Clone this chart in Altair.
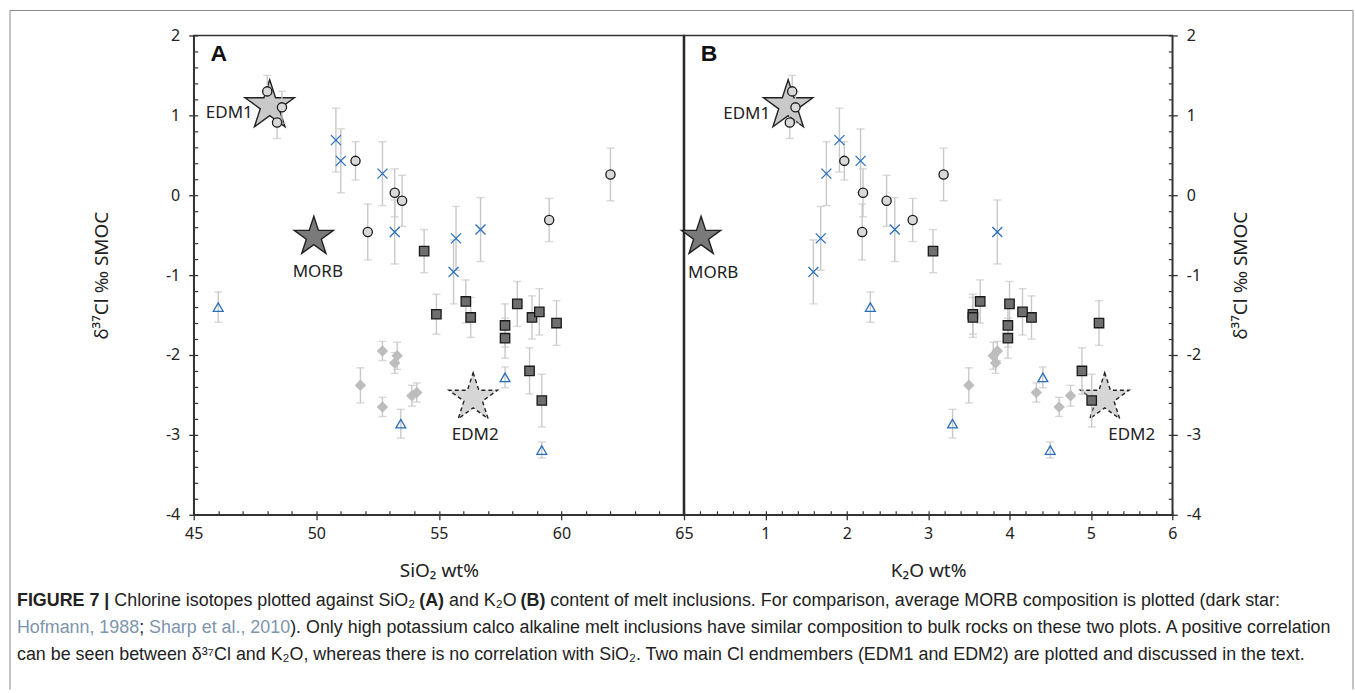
import altair as alt
import pandas as pd

# ------------------------------------------------------------------ data
groups = ["HKCA", "SHO", "KS", "[1]", "Bulk ([2])"]

hkca_sio2 = [48.0, 48.6, 48.4, 51.6, 53.2, 53.5, 52.1, 59.5, 62.0]
hkca_k2o = [1.33, 1.37, 1.30, 1.97, 2.20, 2.49, 2.19, 2.81, 3.19]
hkca_d37 = [1.30, 1.10, 0.91, 0.43, 0.03, -0.07, -0.46, -0.31, 0.26]
hkca_err = [0.20, 0.20, 0.20, 0.24, 0.30, 0.32, 0.35, 0.27, 0.33]

sho_sio2 = [54.4, 54.9, 56.1, 56.3, 58.2, 57.7, 57.7, 58.8, 59.1, 59.8, 58.7, 59.2]
sho_k2o = [3.06, 3.55, 3.64, 3.55, 4.00, 3.98, 3.98, 4.27, 4.16, 5.10, 4.89, 5.01]
sho_d37 = [-0.70, -1.49, -1.33, -1.53, -1.36, -1.63, -1.79, -1.53, -1.46, -1.60, -2.20, -2.57]
sho_err = [0.27, 0.25, 0.27, 0.25, 0.28, 0.27, 0.25, 0.27, 0.29, 0.28, 0.29, 0.33]

ks_sio2 = [52.7, 53.3, 53.2, 51.8, 52.7, 53.9, 54.1]
ks_k2o = [3.85, 3.80, 3.83, 3.50, 4.61, 4.75, 4.33]
ks_d37 = [-1.95, -2.01, -2.10, -2.38, -2.65, -2.51, -2.47]
ks_err = [0.12, 0.17, 0.13, 0.22, 0.12, 0.13, 0.12]

ref1_sio2 = [46.0, 53.45, 57.7, 59.2]
ref1_k2o = [2.29, 3.30, 4.41, 4.50]
ref1_d37 = [-1.40, -2.86, -2.28, -3.19]
ref1_err = [0.19, 0.18, 0.13, 0.10]

bulk_sio2 = [50.8, 51.0, 52.7, 53.2, 55.7, 55.6, 56.7]
bulk_k2o = [1.91, 2.17, 1.75, 3.85, 1.68, 1.59, 2.59]
bulk_d37 = [0.69, 0.43, 0.27, -0.46, -0.54, -0.96, -0.43]
bulk_err = [0.40, 0.40, 0.40, 0.40, 0.40, 0.40, 0.40]

star_names = ["EDM1", "MORB", "EDM2"]
star_sio2 = [48.1, 49.9, 56.4]
star_k2o = [1.28, 0.21, 5.17]
star_d37 = [1.12, -0.52, -2.54]

y_major = [-4, -3, -2, -1, 0, 1, 2]
y_minor = [round(-4 + 0.2 * i, 1) for i in range(31)]
sio2_major = [45, 50, 55, 60, 65]
sio2_minor = list(range(45, 66))
k2o_major = [1, 2, 3, 4, 5, 6]
k2o_minor = [round(0.2 * i, 1) for i in range(31)]

caption1 = [("FIGURE 7 |", True, "#222"),
            (" Chlorine isotopes plotted against SiO\u2082 ", False, "#222"),
            ("(A)", True, "#222"),
            (" and K\u2082O ", False, "#222"),
            ("(B)", True, "#222"),
            (" content of melt inclusions. For comparison, average MORB composition is plotted (dark star:", False, "#222")]
caption2 = [("Hofmann, 1988", False, "#7d95ad"),
            ("; ", False, "#222"),
            ("Sharp et al., 2010", False, "#7d95ad"),
            ("). Only high potassium calco alkaline melt inclusions have similar composition to bulk rocks on these two plots. A positive correlation", False, "#222")]
caption3 = [("can be seen between \u03b4\u00b3\u2077Cl and K\u2082O, whereas there is no correlation with SiO\u2082. Two main Cl endmembers (EDM1 and EDM2) are plotted and discussed in the text.", False, "#222")]

# ------------------------------------------------------------------ frames
rows = []
for g, sx, kx, dv, er in [("HKCA", hkca_sio2, hkca_k2o, hkca_d37, hkca_err),
                          ("SHO", sho_sio2, sho_k2o, sho_d37, sho_err),
                          ("KS", ks_sio2, ks_k2o, ks_d37, ks_err),
                          ("[1]", ref1_sio2, ref1_k2o, ref1_d37, ref1_err),
                          ("Bulk ([2])", bulk_sio2, bulk_k2o, bulk_d37, bulk_err)]:
    for a, b, c, d in zip(sx, kx, dv, er):
        rows.append(dict(group=g, sio2=a, k2o=b, d37=c, lo=c - d, hi=c + d))
df = pd.DataFrame(rows)
stars = pd.DataFrame(dict(name=star_names, sio2=star_sio2, k2o=star_k2o, d37=star_d37))

# ------------------------------------------------------------------ style
FONT = "Noto Sans"
CFONT = "Liberation Sans"
AX = "#333333"
EB = "#c8c8c8"
BLUE = "#2a6ebb"
W_A, W_B, H = 491, 489, 480
STAR = ("M0,-1L0.2245,-0.309L0.951,-0.309L0.363,0.118L0.588,0.809L0,0.382"
        "L-0.588,0.809L-0.363,0.118L-0.951,-0.309L-0.2245,-0.309Z")
CROSS = "M-1,-1L1,1M-1,1L1,-1"
shape_range = ["circle", "square", "diamond", "triangle-up", CROSS]
fill_range = ["#d9d9d9", "#6e6e6e", "#bdbdbd", "transparent", "transparent"]
stroke_range = ["#1a1a1a", "#1a1a1a", "#bdbdbd", BLUE, BLUE]
size_range = [85, 100, 80, 60, 55]

# approximate Arial metrics, for placing caption fragments
REG = {' ': 278, '(': 333, ')': 333, ',': 278, '.': 278, ';': 278, ':': 278, '|': 260, '-': 333,
       'A': 667, 'B': 667, 'C': 722, 'D': 722, 'E': 667, 'F': 611, 'G': 778, 'H': 722, 'I': 278,
       'K': 667, 'L': 556, 'M': 833, 'N': 722, 'O': 778, 'P': 667, 'R': 722, 'S': 667, 'T': 611,
       'U': 722, 'W': 944, 'a': 556, 'b': 556, 'c': 500, 'd': 556, 'e': 556, 'f': 278, 'g': 556,
       'h': 556, 'i': 222, 'j': 222, 'k': 500, 'l': 222, 'm': 833, 'n': 556, 'o': 556, 'p': 556,
       'q': 556, 'r': 333, 's': 500, 't': 278, 'u': 556, 'v': 500, 'w': 722, 'x': 500, 'y': 500,
       'z': 500, '\u2082': 333, '\u00b3': 333, '\u2077': 333, '\u03b4': 556}
BOLD = {'(': 333, ')': 333, ' ': 278, '|': 280, 'A': 722, 'B': 722, 'F': 611, 'I': 278,
        'G': 778, 'U': 722, 'R': 722, 'E': 667, '7': 556}


def tw(s, bold=False):
    t = BOLD if bold else REG
    return sum(t.get(ch, 556) for ch in s) / 1000.0


CAP_FS = 1318 / tw("".join(p[0] for p in caption2))


def place(parts, x0):
    out, cur = [], 0.0
    for txt, bold, color in parts:
        lead = len(txt) - len(txt.lstrip(" "))
        out.append((txt.strip(), bold, color, x0 + CAP_FS * (cur + tw(" " * lead, bold))))
        cur += tw(txt, bold)
    return out


one = alt.Data(values=[{"k": 1}])


def panel(xcol, dom, major, minor, xtitle, letter, width, side, label_specs):
    xs = alt.Scale(domain=dom, nice=False, zero=False)
    ys = alt.Scale(domain=[-4, 2], nice=False, zero=False)
    Xn = alt.X(f"{xcol}:Q", scale=xs, axis=None)
    yorient = "left" if side == "A" else "right"
    layers = []

    # stars
    sb = alt.Chart(stars).encode(x=Xn, y=alt.Y("d37:Q", scale=ys, axis=None))
    layers.append(sb.transform_filter("datum.name == 'EDM1'").mark_point(
        shape=STAR, size=2700, filled=True, fill="#c9c9c9", stroke="#222", strokeWidth=1.4, opacity=1))
    layers.append(sb.transform_filter("datum.name == 'MORB'").mark_point(
        shape=STAR, size=1700, filled=True, fill="#7a7a7a", stroke="#222", strokeWidth=1.4, opacity=1))
    layers.append(sb.transform_filter("datum.name == 'EDM2'").mark_point(
        shape=STAR, size=2600, filled=True, fill="#d6d6d6", stroke="#222", strokeWidth=1.4,
        strokeDash=[4, 3], opacity=1))

    base = alt.Chart(df)
    # error bars
    layers.append(base.mark_rule(color=EB, strokeWidth=1.4).encode(
        x=Xn, y=alt.Y("lo:Q", scale=ys, axis=None), y2="hi:Q"))
    layers.append(base.mark_tick(orient="horizontal", color=EB, size=8, thickness=1.4).encode(
        x=Xn, y=alt.Y("lo:Q", scale=ys, axis=None)))
    layers.append(base.mark_tick(orient="horizontal", color=EB, size=8, thickness=1.4).encode(
        x=Xn, y=alt.Y("hi:Q", scale=ys, axis=None)))

    if side == "B":
        leg = alt.Legend(orient="none", legendX=17, legendY=366, title=None, labelFont=FONT,
                         labelFontSize=12, labelColor="#333", symbolStrokeWidth=1.3,
                         symbolSize=55, rowPadding=3, labelOffset=3, padding=0,
                         direction="vertical")
    else:
        leg = None

    xaxis = alt.Axis(values=major, tickSize=5, tickWidth=1.3, tickColor=AX, domainColor=AX,
                     domainWidth=1.5, labelFont=FONT, labelFontSize=16, labelColor="#222",
                     labelPadding=6, labelFlush=False, labelOverlap=False, grid=False,
                     title=xtitle, titleFont=FONT, titleFontSize=19, titleFontWeight="normal",
                     titleColor="#222", titleY=56, titleBaseline="middle")
    yaxis = alt.Axis(orient=yorient, values=y_major, tickSize=5, tickWidth=1.3, tickColor=AX,
                     domainColor=AX, domainWidth=1.5, labelFont=FONT, labelFontSize=16,
                     labelColor="#222", labelPadding=9, labelFlush=False, labelOverlap=False,
                     labelExpr="'' + datum.value", grid=False,
                     title="\u03b4\u00b3\u2077Cl \u2030 SMOC", titleFont=FONT, titleFontSize=19,
                     titleFontWeight="normal", titleColor="#222", titleAngle=270,
                     titleX=(-92 if side == "A" else 68), titleY=H / 2,
                     titleAlign="center", titleBaseline="middle")
    layers.append(base.mark_point(filled=True, opacity=1, strokeWidth=1.3).encode(
        x=alt.X(f"{xcol}:Q", scale=xs, axis=xaxis),
        y=alt.Y("d37:Q", scale=ys, axis=yaxis),
        shape=alt.Shape("group:N", scale=alt.Scale(domain=groups, range=shape_range), legend=leg),
        fill=alt.Fill("group:N", scale=alt.Scale(domain=groups, range=fill_range), legend=leg),
        stroke=alt.Stroke("group:N", scale=alt.Scale(domain=groups, range=stroke_range), legend=leg),
        size=alt.Size("group:N", scale=alt.Scale(domain=groups, range=size_range), legend=None),
    ))

    # inner (minor) ticks
    layers.append(base.mark_point(opacity=0).encode(
        x=alt.X(f"{xcol}:Q", scale=xs,
                axis=alt.Axis(orient="bottom", values=minor, offset=-4, tickSize=4, tickWidth=1.2,
                              tickColor=AX, labels=False, domain=False, grid=False, title=None))))
    layers.append(base.mark_point(opacity=0).encode(
        y=alt.Y("d37:Q", scale=ys,
                axis=alt.Axis(orient=yorient, values=y_minor, offset=-4, tickSize=4, tickWidth=1.2,
                              tickColor=AX, labels=False, domain=False, grid=False, title=None))))

    # star labels
    for name, align, dx, dy in label_specs:
        layers.append(sb.transform_filter(f"datum.name == '{name}'").mark_text(
            text=name, align=align, baseline="middle", dx=dx, dy=dy, font=FONT, fontSize=17,
            color="#222"))

    # panel letter
    layers.append(alt.Chart(one).mark_text(
        text=letter, font=CFONT, fontWeight="bold", fontSize=23, color="#111",
        align="center", baseline="middle").encode(x=alt.value(25), y=alt.value(19)))

    if side == "A":
        # divider between panels
        layers.append(alt.Chart(one).mark_rule(color="#111", strokeWidth=2.5).encode(
            x=alt.value(W_A), y=alt.value(0), y2=alt.value(H)))
        # figure frame
        fr = dict(color="#8a8a8a", strokeWidth=1)
        layers.append(alt.Chart(one).mark_rule(**fr).encode(
            x=alt.value(-184), y=alt.value(-25), y2=alt.value(655)))
        layers.append(alt.Chart(one).mark_rule(**fr).encode(
            x=alt.value(1161), y=alt.value(-25), y2=alt.value(655)))
        layers.append(alt.Chart(one).mark_rule(**fr).encode(
            x=alt.value(-184), x2=alt.value(1161), y=alt.value(-25)))
        # caption
        for parts, yy in [(caption1, 566), (caption2, 593), (caption3, 620)]:
            for txt, bold, color, xx in place(parts, -177):
                layers.append(alt.Chart(one).mark_text(
                    text=txt, font=CFONT, fontSize=CAP_FS,
                    fontWeight=("bold" if bold else "normal"), color=color,
                    align="left", baseline="middle").encode(x=alt.value(xx), y=alt.value(yy)))

    return alt.layer(*layers).resolve_axis(x="independent", y="independent").properties(
        width=width, height=H)


A = panel("sio2", [45, 65], sio2_major, sio2_minor, "SiO\u2082 wt%", "A", W_A, "A",
          [("EDM1", "right", -17, 7), ("MORB", "center", 4, 35), ("EDM2", "center", 2, 37)])
B = panel("k2o", [0, 6], k2o_major, k2o_minor, "K\u2082O wt%", "B", W_B, "B",
          [("EDM1", "right", -18, 8), ("MORB", "left", -13, 36), ("EDM2", "center", 27, 37)])

chart = alt.hconcat(A, B, spacing=0, bounds="flush").resolve_scale(
    x="independent", y="independent", shape="independent", fill="independent",
    stroke="independent", size="independent").resolve_legend(
    shape="independent", fill="independent", stroke="independent", size="independent").properties(
    padding={"left": 8, "top": 8, "right": 0, "bottom": 0},
    background="white").configure_view(stroke=AX, strokeWidth=1.5)

chart.save("out.html", embed_options={"renderer": "svg", "actions": False})
